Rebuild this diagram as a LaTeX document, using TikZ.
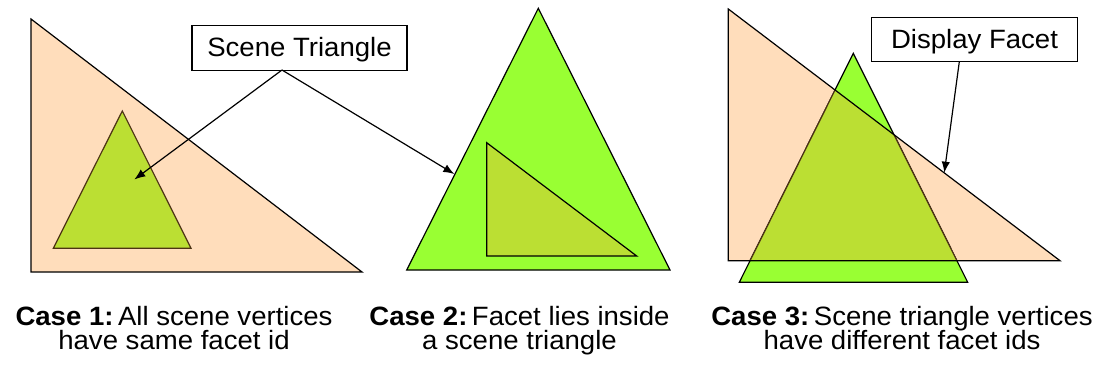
\documentclass[tikz,border=0pt]{standalone}
\usepackage{fontspec}
\setmainfont{Liberation Sans}[FakeStretch=1.04]
\usetikzlibrary{arrows.meta}
\definecolor{peach}{HTML}{FFDDBB}
\definecolor{lime}{HTML}{99FF33}
\definecolor{ygreen}{HTML}{BBDF33}
\definecolor{dbrown}{HTML}{4D3314}
\begin{document}
\begin{tikzpicture}[x=1pt,y=-1pt,
  tri/.style={line width=1.2pt,line join=miter},
  lbl/.style={draw=black,line width=1.1pt,fill=white,inner sep=0pt,
    font=\fontsize{26.5}{30}\selectfont,text height=18.5pt,text depth=0pt},
  captxt/.style={anchor=base,inner sep=0pt,font=\fontsize{26.5}{26}\selectfont},
  pointer/.style={line width=1.2pt,-{Latex[length=11pt,width=8.5pt]}}]
\useasboundingbox (0,0) rectangle (1107,369);
% Case 1
\filldraw[tri,fill=peach,draw=black] (31,19) -- (31,272) -- (362,272) -- cycle;
\filldraw[tri,fill=ygreen,draw=dbrown] (122.3,111) -- (53.3,248.3) -- (191,248.3) -- cycle;
% Case 2
\filldraw[tri,fill=lime,draw=black] (538.3,8.3) -- (406.7,270) -- (670,270) -- cycle;
\filldraw[tri,fill=ygreen,draw=black] (486.7,142.7) -- (486.7,256) -- (636.7,256) -- cycle;
% Case 3
\fill[peach] (728.3,9) -- (728.3,260.7) -- (1060,260.7) -- cycle;
\filldraw[tri,fill=lime,draw=black] (853.3,53.3) -- (739.3,282.3) -- (967.7,282.3) -- cycle;
\begin{scope}
  \clip (728.3,9) -- (728.3,260.7) -- (1060,260.7) -- cycle;
  \filldraw[tri,fill=ygreen,draw=dbrown] (853.3,53.3) -- (739.3,282.3) -- (967.7,282.3) -- cycle;
\end{scope}
\draw[tri] (728.3,9) -- (728.3,260.7) -- (1060,260.7) -- cycle;
% labels
\node[lbl,minimum width=215pt,minimum height=45pt] (st) at (299.5,47.6) {Scene Triangle};
\node[lbl,minimum width=206pt,minimum height=44.4pt] (df) at (974.5,39.5) {Display Facet};
\coordinate (st-out) at (282,70);
\coordinate (t1) at (134.3,179.5);
\coordinate (t2) at (454.3,174);
\coordinate (df-out) at (959.3,61.7);
\coordinate (t3) at (944.3,172.7);
\draw[pointer] (st-out) -- (t1);
\draw[pointer] (st-out) -- (t2);
\draw[pointer] (df-out) -- (t3);
% captions
\node[captxt] (c1a) at (174,325) {\textbf{Case 1:}\hspace{4.5pt}All scene vertices};
\node[captxt] (c1b) at (174,349) {have same facet id};
\node[captxt] (c2a) at (519.5,325) {\textbf{Case 2:}\hspace{4.5pt}Facet lies inside};
\node[captxt] (c2b) at (519.5,349) {a scene triangle};
\node[captxt] (c3a) at (902,325) {\textbf{Case 3:}\hspace{4.5pt}Scene triangle vertices};
\node[captxt] (c3b) at (902,349) {have different facet ids};
\end{tikzpicture}
\end{document}
